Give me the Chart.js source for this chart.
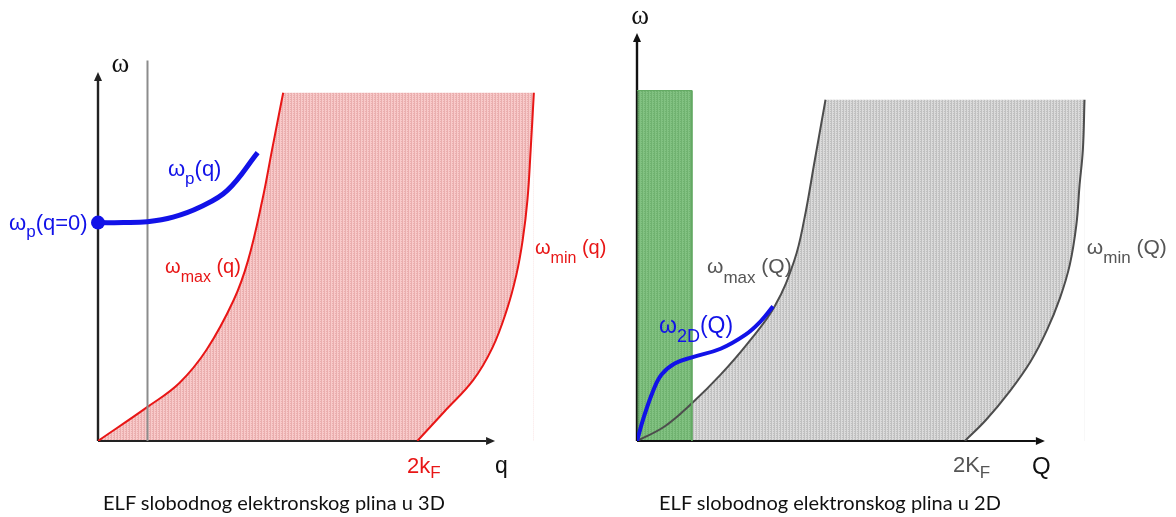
<!DOCTYPE html>
<html lang="hr">
<head>
<meta charset="UTF-8" />
<title>ELF slobodnog elektronskog plina</title>
<script src="https://cdn.jsdelivr.net/npm/chart.js"></script>
<style>
  body {
    margin: 0;
    background: #fff;
    width: 1176px;
    height: 517px;
    overflow: hidden;
    position: relative;
  }
  .panel {
    position: absolute;
    top: 0;
    height: 517px;
  }
  #panel3d { left: 0; width: 630px; }
  #panel2d { left: 588px; width: 588px; }
  .caption {
    position: absolute;
    top: 491px;
    font-family: Lato, "Open Sans", sans-serif;
    font-size: 20px;
    line-height: 22px;
    color: #111;
    white-space: nowrap;
    transform: translateX(-50%);
  }
</style>
</head>
<body>
<div class="panel" id="panel3d"><canvas id="chart3d" width="630" height="517"></canvas></div>
<div class="panel" id="panel2d"><canvas id="chart2d" width="588" height="517"></canvas></div>
<div class="caption" style="left: 274px">ELF slobodnog elektronskog plina u 3D</div>
<div class="caption" style="left: 830px">ELF slobodnog elektronskog plina u 2D</div>

<script>
  // 3D electron gas: q in units of kF
  const qMax3D = [0, 0.31, 0.51, 0.68, 0.85, 0.94, 1.03, 1.09, 1.16];
  const wMax3D = [0, 0.37, 0.63, 0.99, 1.53, 1.96, 2.62, 3.16, 3.78];
  const qMin3D = [2.0, 2.17, 2.35, 2.47, 2.56, 2.62, 2.66, 2.69, 2.71, 2.73];
  const wMin3D = [0, 0.32, 0.66, 1.01, 1.42, 1.80, 2.18, 2.62, 3.16, 3.78];
  const qPl3D = [0, 0.16, 0.31, 0.47, 0.64, 0.81, 1.0];
  const wPl3D = [2.37, 2.37, 2.38, 2.43, 2.54, 2.72, 3.13];
  const qCut3D = 0.31;
  const wCut3D = 4.13;

  // 2D electron gas: Q in units of KF
  const qMax2D = [0, 0.17, 0.335, 0.51, 0.68, 0.84, 0.96, 1.02, 1.085, 1.15];
  const wMax2D = [0, 0.16, 0.41, 0.72, 1.07, 1.46, 1.96, 2.40, 3.05, 3.70];
  const qMin2D = [2.0, 2.13, 2.27, 2.40, 2.5, 2.58, 2.64, 2.68, 2.70, 2.72, 2.73];
  const wMin2D = [0, 0.23, 0.53, 0.86, 1.20, 1.55, 1.91, 2.34, 2.78, 3.16, 3.70];
  const qPl2D = [0, 0.04, 0.10, 0.15, 0.23, 0.34, 0.51, 0.66, 0.75, 0.83];
  const wPl2D = [0, 0.25, 0.55, 0.72, 0.84, 0.91, 1.00, 1.15, 1.29, 1.46];
  const qBand2D = 0.335;
  const wBand2D = 3.80;

  const RED = "rgb(232,22,22)";
  const BLUE = "rgb(18,18,232)";
  const GRAY = "#555";

  const pts = (xs, ys) => xs.map((x, i) => ({ x, y: ys[i] }));
  const last = (a) => a[a.length - 1];

  // small striped tile, like the dotted screen of the shaded regions
  function makePattern(base, stripe) {
    const tile = document.createElement("canvas");
    tile.width = 3;
    tile.height = 2;
    const t = tile.getContext("2d");
    t.fillStyle = base;
    t.fillRect(0, 0, 3, 2);
    t.fillStyle = stripe;
    t.fillRect(0, 0, 1, 2);
    t.fillRect(2, 1, 1, 1);
    return t.createPattern(tile, "repeat");
  }

  function arrow(ctx, x0, y0, x1, y1, color, width) {
    const a = Math.atan2(y1 - y0, x1 - x0);
    const head = 9, half = 4;
    const bx = x1 - Math.cos(a) * head, by = y1 - Math.sin(a) * head;
    ctx.strokeStyle = color;
    ctx.lineWidth = width;
    ctx.beginPath();
    ctx.moveTo(x0, y0);
    ctx.lineTo(bx, by);
    ctx.stroke();
    ctx.fillStyle = color;
    ctx.beginPath();
    ctx.moveTo(x1, y1);
    ctx.lineTo(bx - Math.sin(a) * half, by + Math.cos(a) * half);
    ctx.lineTo(bx + Math.sin(a) * half, by - Math.cos(a) * half);
    ctx.closePath();
    ctx.fill();
  }

  function drawLabel(ctx, chart, lb) {
    const sans = '"Liberation Sans", Arial, sans-serif';
    const family = lb.serif ? '"Liberation Serif", "DejaVu Serif", serif' : sans;
    let x = chart.scales.x.getPixelForValue(lb.x);
    const y = chart.scales.y.getPixelForValue(lb.y);
    ctx.save();
    ctx.fillStyle = lb.color;
    ctx.textBaseline = "alphabetic";
    ctx.textAlign = "left";
    ctx.font = lb.size + "px " + family;
    ctx.fillText(lb.text, x, y);
    x += ctx.measureText(lb.text).width;
    if (lb.sub) {
      ctx.font = lb.subSize + "px " + sans;
      ctx.fillText(lb.sub, x, y + lb.drop);
      x += ctx.measureText(lb.sub).width;
    }
    if (lb.tail) {
      ctx.font = lb.size + "px " + sans;
      ctx.fillText(lb.tail, x, y);
    }
    ctx.restore();
  }

  // arrowed axes under the curves, annotations on top
  function sketchPlugin(axisColor, xEnd, yEnd, labels) {
    return {
      id: "sketch",
      beforeDatasetsDraw(chart) {
        const { x, y } = chart.scales;
        const ctx = chart.ctx;
        const ox = x.getPixelForValue(0), oy = y.getPixelForValue(0);
        ctx.save();
        arrow(ctx, ox, oy, x.getPixelForValue(xEnd), oy, axisColor, 2);
        arrow(ctx, ox, oy, ox, y.getPixelForValue(yEnd), axisColor, 2.4);
        ctx.restore();
      },
      afterDraw(chart) {
        labels.forEach((lb) => drawLabel(chart.ctx, chart, lb));
      },
    };
  }

  function panel(id, cfg) {
    return new Chart(document.getElementById(id), {
      type: "line",
      data: { datasets: cfg.datasets },
      options: {
        responsive: false,
        animation: false,
        devicePixelRatio: 1,
        events: [],
        layout: { padding: cfg.padding },
        scales: {
          x: { type: "linear", min: 0, max: cfg.xMax, display: false },
          y: { type: "linear", min: 0, max: cfg.yMax, display: false },
        },
        elements: { point: { radius: 0 }, line: { tension: 0.4 } },
        plugins: {
          legend: { display: false },
          tooltip: { enabled: false },
          filler: { drawTime: "beforeDatasetsDraw" },
        },
      },
      plugins: [sketchPlugin(cfg.axisColor, cfg.xEnd, cfg.yEnd, cfg.labels)],
    });
  }

  const pink = makePattern("rgb(248,202,202)", "rgb(234,174,174)");
  const gray = makePattern("rgb(219,219,219)", "rgb(192,192,192)");
  const green = makePattern("rgb(130,194,130)", "rgb(112,178,112)");

  // ---------- 3D ----------
  panel("chart3d", {
    padding: { left: 98, right: 69, top: 54, bottom: 76 },
    xMax: 2.9,
    yMax: 4.2,
    xEnd: 2.487,
    yEnd: 4.005,
    axisColor: "#222",
    datasets: [
      {
        label: "ωp(q)",
        data: pts(qPl3D, wPl3D),
        borderColor: BLUE,
        borderWidth: 5,
        fill: false,
        clip: false,
        pointRadius: (c) => (c.dataIndex === 0 ? 7 : 0),
        pointBackgroundColor: BLUE,
        pointBorderWidth: 0,
        order: 1,
      },
      {
        label: "q cut",
        data: [{ x: qCut3D, y: 0 }, { x: qCut3D, y: wCut3D }],
        borderColor: "#8c8c8c",
        borderWidth: 2,
        tension: 0,
        fill: false,
        order: 2,
      },
      {
        label: "ωmin(q)",
        data: pts(qMin3D, wMin3D),
        borderColor: RED,
        borderWidth: 2,
        fill: "origin",
        backgroundColor: "#fff",
        order: 4,
      },
      {
        label: "ωmax(q)",
        data: pts(qMax3D, wMax3D),
        borderColor: RED,
        borderWidth: 2,
        fill: "end",
        backgroundColor: "#fff",
        order: 5,
      },
      {
        label: "continuum",
        data: [{ x: 0, y: last(wMax3D) }, { x: last(qMin3D), y: last(wMin3D) }],
        borderColor: "transparent",
        tension: 0,
        fill: "origin",
        backgroundColor: pink,
        order: 6,
      },
    ],
    labels: [
      { text: "ω", serif: true, x: 0.085, y: 4.0, size: 27, color: "#111" },
      { text: "ω", sub: "p", tail: "(q=0)", x: -0.557, y: 2.29, size: 22, subSize: 17, drop: 7, color: BLUE },
      { text: "ω", sub: "p", tail: "(q)", x: 0.438, y: 2.876, size: 22, subSize: 17, drop: 8, color: BLUE },
      { text: "ω", sub: "max", tail: " (q)", x: 0.42, y: 1.823, size: 20, subSize: 16, drop: 9, color: RED },
      { text: "ω", sub: "min", tail: " (q)", x: 2.737, y: 2.03, size: 20, subSize: 16, drop: 9, color: RED },
      { text: "2k", sub: "F", x: 1.935, y: -0.347, size: 22, subSize: 17, drop: 5, color: RED },
      { text: "q", x: 2.487, y: -0.347, size: 23, color: "#111" },
    ],
  });

  // ---------- 2D ----------
  panel("chart2d", {
    padding: { left: 49, right: 80, top: 26, bottom: 76 },
    xMax: 2.8,
    yMax: 4.5,
    xEnd: 2.488,
    yEnd: 4.425,
    axisColor: "#111",
    datasets: [
      {
        label: "ω2D(Q)",
        data: pts(qPl2D, wPl2D),
        borderColor: BLUE,
        borderWidth: 4,
        fill: false,
        order: 1,
      },
      {
        label: "green band",
        data: [
          { x: 0, y: 0 },
          { x: 0, y: wBand2D },
          { x: qBand2D, y: wBand2D },
          { x: qBand2D, y: 0 },
        ],
        borderColor: "rgb(96,168,96)",
        borderWidth: 1,
        tension: 0,
        fill: "origin",
        backgroundColor: green,
        order: 3,
      },
      {
        label: "ωmin(Q)",
        data: pts(qMin2D, wMin2D),
        borderColor: "#4d4d4d",
        borderWidth: 2,
        fill: "origin",
        backgroundColor: "#fff",
        order: 4,
      },
      {
        label: "ωmax(Q)",
        data: pts(qMax2D, wMax2D),
        borderColor: "#4d4d4d",
        borderWidth: 2,
        fill: "end",
        backgroundColor: "#fff",
        order: 5,
      },
      {
        label: "continuum",
        data: [{ x: 0, y: last(wMax2D) }, { x: last(qMin2D), y: last(wMin2D) }],
        borderColor: "transparent",
        tension: 0,
        fill: "origin",
        backgroundColor: gray,
        order: 6,
      },
    ],
    labels: [
      { text: "ω", serif: true, x: -0.035, y: 4.52, size: 27, color: "#111" },
      { text: "ω", sub: "max", tail: " (Q)", x: 0.427, y: 1.822, size: 21, subSize: 17, drop: 10, color: GRAY },
      { text: "ω", sub: "min", tail: " (Q)", x: 2.744, y: 2.028, size: 21, subSize: 17, drop: 9, color: GRAY },
      { text: "ω", sub: "2D", tail: "(Q)", x: 0.134, y: 1.171, size: 23, subSize: 18, drop: 9, color: BLUE },
      { text: "2K", sub: "F", x: 1.927, y: -0.336, size: 22, subSize: 17, drop: 6, color: GRAY },
      { text: "Q", x: 2.409, y: -0.358, size: 24, color: "#111" },
    ],
  });
</script>
</body>
</html>
